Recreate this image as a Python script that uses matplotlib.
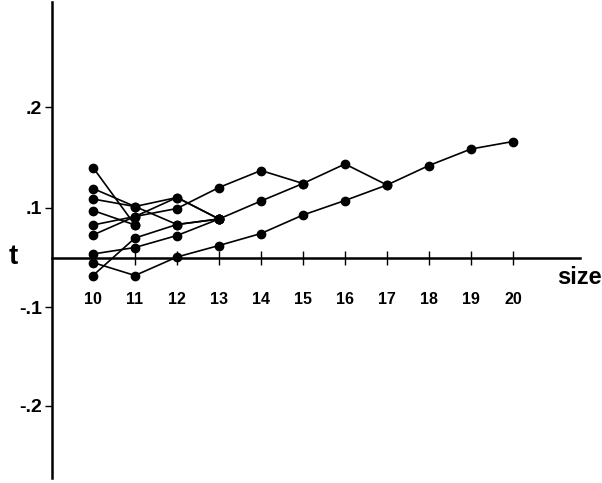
import numpy as np
import matplotlib.pyplot as plt

# t values of each run, one list per run, starting at size 10
sizes = [10, 11, 12, 13, 14, 15, 16, 17, 18, 19, 20]
run_a = [-0.005, -0.018, 0.0005, 0.012, 0.024, 0.0425, 0.057, 0.0725, 0.092, 0.1085, 0.116]
run_b = [-0.018, 0.0195, 0.033, 0.0385, 0.0565, 0.074, 0.0935, 0.0725]
run_c = [0.0035, 0.010, 0.022, 0.0385]
run_d = [0.0325, 0.041, 0.049, 0.070, 0.087, 0.074]
run_e = [0.0225, 0.041, 0.060, 0.0385]
run_f = [0.069, 0.051, 0.033, 0.0385]
run_g = [0.0585, 0.051, 0.060, 0.0385]
run_h = [0.090, 0.0325]
run_i = [0.047, 0.0325]
runs = [run_a, run_b, run_c, run_d, run_e, run_f, run_g, run_h, run_i]

ytick_pos = [0.1505, 0.0495, -0.0495, -0.1485]
ytick_lab = ['.2', '.1', '-.1', '-.2']

fig = plt.figure(figsize=(6.02, 4.83), dpi=100)
ax = fig.add_axes([0, 0, 1, 1])
ax.set_xlim(7.786, 22.119)
ax.set_ylim(-0.2255, 0.2575)

for r in runs:
    ax.plot(sizes[:len(r)], r, color='black', lw=1.2, marker='o', ms=6,
            markerfacecolor='black', markeredgecolor='black', zorder=3)

font = 'Liberation Sans'

# axes drawn as crossing spines
for s in ['top', 'right']:
    ax.spines[s].set_visible(False)
ax.spines['left'].set_position(('data', 9.024))
ax.spines['bottom'].set_position(('data', 0))
ax.spines['left'].set_bounds(-0.2205, 0.2555)
ax.spines['bottom'].set_bounds(9.024, 21.6)
ax.spines['left'].set_linewidth(1.8)
ax.spines['bottom'].set_linewidth(1.8)

ax.set_xticks(sizes)
ax.set_xticklabels([str(s) for s in sizes], fontfamily=font,
                   fontweight='bold', fontsize=11.5)
ax.tick_params(axis='x', direction='inout', length=10, width=1.0, pad=20)
ax.set_yticks(ytick_pos)
ax.set_yticklabels(ytick_lab, fontfamily=font, fontweight='bold', fontsize=14)
ax.tick_params(axis='y', direction='out', length=5, width=1.0, pad=2)

ax.text(8.1, 0, 't', fontfamily=font, fontweight='bold',
        fontsize=20, ha='center', va='center')
ax.text(21.05, -0.02, 'size', fontfamily=font, fontweight='bold',
        fontsize=17, ha='left', va='center')

fig.savefig('out.png', dpi=100)
